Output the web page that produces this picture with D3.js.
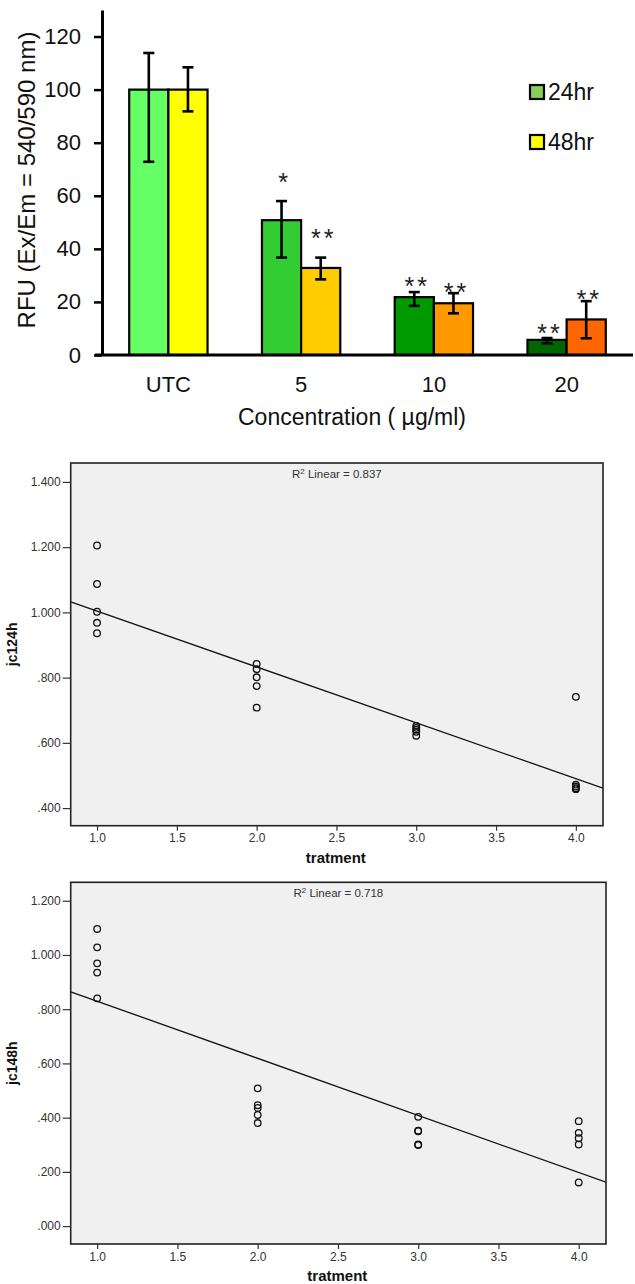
<!DOCTYPE html>
<html>
<head>
<meta charset="utf-8">
<script src="https://cdn.jsdelivr.net/npm/d3@7"></script>
<style>
  html, body { margin: 0; padding: 0; background: #fff; }
  svg { display: block; }
  text { font-family: "Liberation Sans", Arial, sans-serif; }
</style>
</head>
<body>
<svg id="chart" width="635" height="1284"></svg>
<script>
// ---------- Bar chart data ----------
const categories = ["UTC", "5", "10", "20"];
const seriesNames = ["24hr", "48hr"];
const rfu24 = [100, 50.8, 21.8, 5.7];
const rfu48 = [100, 32.8, 19.5, 13.4];
const err24Lo = [72.8, 36.7, 18.5, 4.4];
const err24Hi = [113.8, 58.0, 23.7, 6.4];
const err48Lo = [91.8, 28.5, 15.7, 6.3];
const err48Hi = [108.4, 36.7, 23.3, 20.3];
const sig24 = ["", "*", "**", "**"];
const sig48 = ["", "**", "**", "**"];
const sigAt24 = [null, 67.1, 27.7, 10.0];
const sigAt48 = [null, 45.9, 25.5, 22.9];
const rfuTicks = [0, 20, 40, 60, 80, 100, 120];
const colors24 = ["#66ff66", "#33cc33", "#009900", "#006600"];
const colors48 = ["#ffff00", "#ffcc00", "#ff9900", "#ff6600"];
const legendColors = ["#86cf58", "#ffff00"];

// ---------- Scatter data ----------
const treatment = [1,1,1,1,1, 2,2,2,2,2, 3,3,3,3,3, 4,4,4,4,4];
const jc124h = [1.205,1.087,1.002,0.968,0.936, 0.842,0.826,0.801,0.774,0.708,
                0.652,0.646,0.640,0.634,0.622, 0.741,0.472,0.466,0.461,0.458];
const jc148h = [1.096,1.028,0.969,0.935,0.840, 0.508,0.446,0.436,0.410,0.380,
                0.403,0.352,0.350,0.301,0.299, 0.387,0.344,0.324,0.301,0.161];
const xTicks = [1.0, 1.5, 2.0, 2.5, 3.0, 3.5, 4.0];
const yTicks124 = [0.4, 0.6, 0.8, 1.0, 1.2, 1.4];
const yTicks148 = [0.0, 0.2, 0.4, 0.6, 0.8, 1.0, 1.2];
const r2Values = ["0.837", "0.718"];

const svg = d3.select("#chart");

// ================= BAR CHART =================
(function () {
  const g = svg.append("g");
  const y = d3.scaleLinear().domain([0, 130]).range([355, 10]);
  const x = d3.scaleBand().domain(categories).range([102, 633])
    .paddingInner(0.41).paddingOuter(0.205);
  const xs = d3.scaleBand().domain(seriesNames).range([0, x.bandwidth()]);

  const rows = categories.map((c, i) => ({
    c, i,
    vals: [
      { s: "24hr", v: rfu24[i], lo: err24Lo[i], hi: err24Hi[i], col: colors24[i], sig: sig24[i], at: sigAt24[i] },
      { s: "48hr", v: rfu48[i], lo: err48Lo[i], hi: err48Hi[i], col: colors48[i], sig: sig48[i], at: sigAt48[i] }
    ]
  }));

  const grp = g.selectAll("g.cat").data(rows).join("g")
    .attr("transform", d => `translate(${x(d.c)},0)`);

  grp.selectAll("rect").data(d => d.vals).join("rect")
    .attr("x", d => xs(d.s))
    .attr("y", d => y(d.v))
    .attr("width", xs.bandwidth())
    .attr("height", d => y(0) - y(d.v))
    .attr("fill", d => d.col)
    .attr("stroke", "#000")
    .attr("stroke-width", 2.2);

  const eb = grp.selectAll("g.err").data(d => d.vals).join("g")
    .attr("transform", d => `translate(${xs(d.s) + xs.bandwidth() / 2},0)`);
  eb.append("line").attr("y1", d => y(d.lo)).attr("y2", d => y(d.hi))
    .attr("stroke", "#000").attr("stroke-width", 2.6);
  eb.append("line").attr("x1", -5.5).attr("x2", 5.5).attr("y1", d => y(d.hi)).attr("y2", d => y(d.hi))
    .attr("stroke", "#000").attr("stroke-width", 2.6);
  eb.append("line").attr("x1", -5.5).attr("x2", 5.5).attr("y1", d => y(d.lo)).attr("y2", d => y(d.lo))
    .attr("stroke", "#000").attr("stroke-width", 2.6);
  eb.filter(d => d.sig).append("text")
    .attr("x", 3)
    .attr("y", d => y(d.at) + 14)
    .attr("text-anchor", "middle")
    .attr("font-size", 25)
    .attr("letter-spacing", 3)
    .attr("fill", "#222")
    .text(d => d.sig);

  // Y axis
  const ya = g.append("g").attr("transform", "translate(102,0)")
    .call(d3.axisLeft(y).tickValues(rfuTicks).tickSize(8).tickSizeOuter(0).tickPadding(13));
  ya.select(".domain").attr("stroke-width", 3);
  ya.selectAll(".tick line").attr("stroke-width", 2.5);
  ya.selectAll(".tick text").attr("font-size", 22).attr("fill", "#111")
    .attr("font-family", "'Liberation Sans', Arial, sans-serif");

  // X axis
  const xa = g.append("g").attr("transform", `translate(0,${y(0)})`)
    .call(d3.axisBottom(x).tickSize(0).tickPadding(21));
  xa.select(".domain").attr("d", `M95,0H633`).attr("stroke-width", 3);
  xa.selectAll(".tick text").attr("font-size", 22).attr("fill", "#111")
    .attr("font-family", "'Liberation Sans', Arial, sans-serif");

  g.append("text").attr("x", 352).attr("y", 425).attr("text-anchor", "middle")
    .attr("font-size", 23).attr("fill", "#111").text("Concentration ( µg/ml)");
  g.append("text").attr("transform", "translate(35,180) rotate(-90)")
    .attr("text-anchor", "middle").attr("font-size", 24).attr("fill", "#111")
    .text("RFU (Ex/Em = 540/590 nm)");

  // legend
  const lg = g.selectAll("g.leg").data(seriesNames).join("g")
    .attr("transform", (d, i) => `translate(530,${85 + i * 50})`);
  lg.append("rect").attr("width", 14).attr("height", 14)
    .attr("fill", (d, i) => legendColors[i]).attr("stroke", "#000").attr("stroke-width", 2.2);
  lg.append("text").attr("x", 18).attr("y", 15).attr("font-size", 23).attr("fill", "#111").text(d => d);
})();

// ================= SCATTER PLOTS =================
function scatter(opts) {
  const { left, right, top, bottom, yDomain, yTicks, yVals, yLabel, r2 } = opts;
  const g = svg.append("g");
  const x = d3.scaleLinear().domain([0.835, 4.17]).range([left, right]);
  const y = d3.scaleLinear().domain(yDomain).range([bottom, top]);

  g.append("rect").attr("x", left).attr("y", top)
    .attr("width", right - left).attr("height", bottom - top)
    .attr("fill", "#f0f0f0");

  const clipId = "clip" + Math.round(top);
  g.append("clipPath").attr("id", clipId).append("rect")
    .attr("x", left).attr("y", top).attr("width", right - left).attr("height", bottom - top);

  // regression line (least squares from the data)
  const n = treatment.length;
  const mx = d3.mean(treatment), my = d3.mean(yVals);
  let sxy = 0, sxx = 0;
  for (let i = 0; i < n; i++) { sxy += (treatment[i] - mx) * (yVals[i] - my); sxx += (treatment[i] - mx) ** 2; }
  const b = sxy / sxx, a = my - b * mx;
  const xd = x.domain();
  g.append("line").attr("clip-path", `url(#${clipId})`)
    .attr("x1", x(xd[0])).attr("y1", y(a + b * xd[0]))
    .attr("x2", x(xd[1])).attr("y2", y(a + b * xd[1]))
    .attr("stroke", "#111").attr("stroke-width", 1.3);

  g.selectAll("circle").data(yVals).join("circle")
    .attr("cx", (d, i) => x(treatment[i]))
    .attr("cy", d => y(d))
    .attr("r", 3.3)
    .attr("fill", "none")
    .attr("stroke", "#111")
    .attr("stroke-width", 1.3);

  // frame
  g.append("rect").attr("x", left).attr("y", top)
    .attr("width", right - left).attr("height", bottom - top)
    .attr("fill", "none").attr("stroke", "#222").attr("stroke-width", 1.6);

  const fmt = v => { const s = v.toFixed(3); return v < 1 ? s.replace(/^0/, "") : s; };
  const ya = g.append("g").attr("transform", `translate(${left},0)`)
    .call(d3.axisLeft(y).tickValues(yTicks).tickFormat(fmt).tickSize(8).tickSizeOuter(0).tickPadding(2));
  ya.select(".domain").remove();
  ya.selectAll(".tick line").attr("stroke", "#333").attr("stroke-width", 1.2);
  ya.selectAll(".tick text").attr("font-size", 12).attr("fill", "#333")
    .attr("font-family", "'Liberation Sans', Arial, sans-serif");

  const xa = g.append("g").attr("transform", `translate(0,${bottom})`)
    .call(d3.axisBottom(x).tickValues(xTicks).tickFormat(d3.format(".1f")).tickSize(5).tickSizeOuter(0).tickPadding(3));
  xa.select(".domain").remove();
  xa.selectAll(".tick line").attr("stroke", "#333").attr("stroke-width", 1.2);
  xa.selectAll(".tick text").attr("font-size", 12).attr("fill", "#333")
    .attr("font-family", "'Liberation Sans', Arial, sans-serif");

  g.append("text").attr("x", (left + right) / 2 - 1).attr("y", bottom + 37)
    .attr("text-anchor", "middle").attr("font-size", 15).attr("font-weight", "bold")
    .attr("fill", "#111").text("tratment");
  g.append("text").attr("transform", `translate(17,${(top + bottom) / 2}) rotate(-90)`)
    .attr("text-anchor", "middle").attr("font-size", 14).attr("font-weight", "bold")
    .attr("fill", "#111").text(yLabel);

  const t = g.append("text").attr("x", (left + right) / 2).attr("y", top + 15)
    .attr("text-anchor", "middle").attr("font-size", 11.5).attr("fill", "#333");
  t.append("tspan").text("R");
  t.append("tspan").attr("font-size", 8).attr("dy", -4).text("2");
  t.append("tspan").attr("dy", 4).text(" Linear = " + r2);
}

scatter({ left: 70.7, right: 603, top: 463, bottom: 825.7,
  yDomain: [0.346, 1.458], yTicks: yTicks124, yVals: jc124h, yLabel: "jc124h", r2: r2Values[0] });
scatter({ left: 70.7, right: 606, top: 882.3, bottom: 1244,
  yDomain: [-0.066, 1.268], yTicks: yTicks148, yVals: jc148h, yLabel: "jc148h", r2: r2Values[1] });
</script>
</body>
</html>
